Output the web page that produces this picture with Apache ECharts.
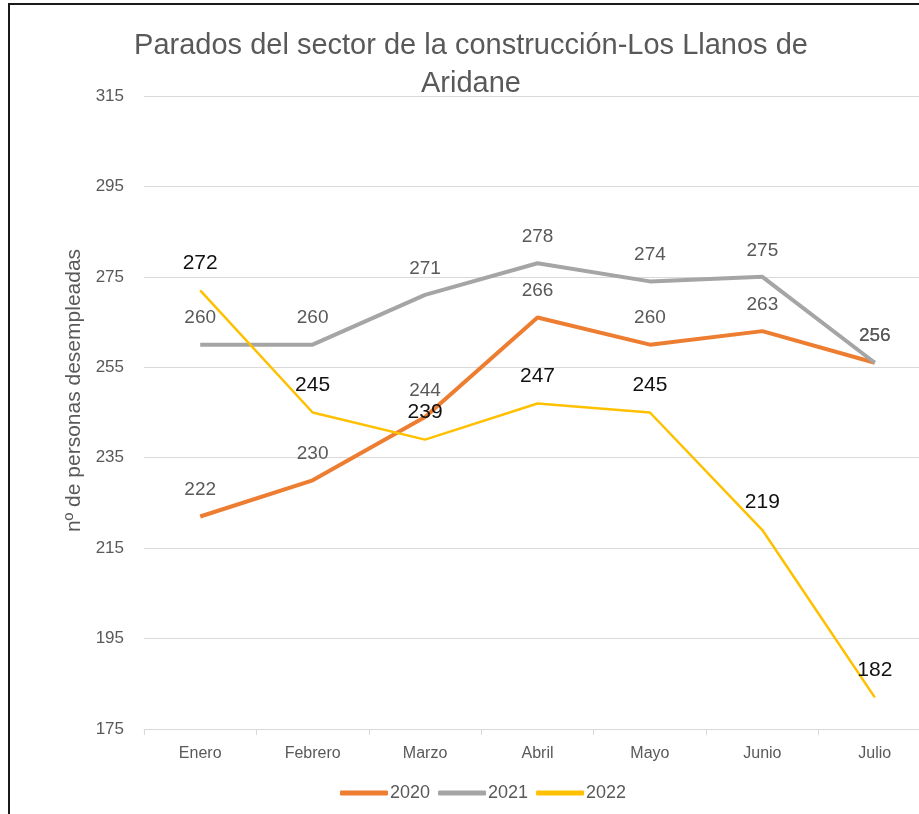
<!DOCTYPE html>
<html>
<head>
<meta charset="utf-8">
<title>Parados del sector de la construcción</title>
<script src="https://cdn.jsdelivr.net/npm/echarts@6/dist/echarts.min.js"></script>
<style>
  html, body { margin: 0; padding: 0; background: #fff; }
  #chartContainer { width: 919px; height: 814px; }
</style>
</head>
<body>
<div id="chartContainer"></div>
<script>
// Datos del gráfico
const meses = ['Enero', 'Febrero', 'Marzo', 'Abril', 'Mayo', 'Junio', 'Julio'];
const anios = ['2020', '2021', '2022'];
const valores2020 = [222, 230, 244, 266, 260, 263, 256];
const valores2021 = [260, 260, 271, 278, 274, 275, 256];
const valores2022 = [272, 245, 239, 247, 245, 219, 182];

const fuente = 'Liberation Sans';
const gris = '#595959';

function serie(nombre, datos, color, ancho, etiqueta) {
  return {
    name: nombre,
    type: 'line',
    data: datos,
    symbol: 'circle',
    symbolSize: 0,
    lineStyle: { color: color, width: ancho },
    itemStyle: { color: color },
    label: Object.assign({ show: true, position: 'top', fontFamily: fuente }, etiqueta)
  };
}

const chart = echarts.init(document.getElementById('chartContainer'));

chart.setOption({
  animation: false,
  backgroundColor: '#fff',
  title: {
    text: 'Parados del sector de la construcción-Los Llanos de\nAridane',
    left: 466,
    textAlign: 'center',
    top: 22,
    textStyle: { fontFamily: fuente, fontSize: 29, fontWeight: 'normal', color: gris, lineHeight: 38 }
  },
  legend: {
    data: anios,
    bottom: 7,
    left: 335,
    icon: 'roundRect',
    itemWidth: 48,
    itemHeight: 5,
    itemGap: 8,
    textStyle: { fontFamily: fuente, fontSize: 18, color: gris, padding: [0, 0, 0, -3] }
  },
  grid: {
    left: 144, top: 96, width: 787, height: 633,
    containLabel: false,
    outerBoundsMode: 'none'
  },
  xAxis: {
    type: 'category',
    data: meses,
    boundaryGap: true,
    axisLine: { lineStyle: { color: '#d9d9d9', width: 1 } },
    axisTick: { show: true, length: 6, lineStyle: { color: '#d9d9d9' } },
    axisLabel: { fontFamily: fuente, fontSize: 16, color: gris, margin: 17 }
  },
  yAxis: {
    type: 'value',
    min: 175,
    max: 315,
    interval: 20,
    name: 'nº de personas desempleadas',
    nameLocation: 'middle',
    nameGap: 58,
    nameTextStyle: { fontFamily: fuente, fontSize: 21, color: gris, padding: [0, 0, 0, 44] },
    axisLine: { show: false },
    axisTick: { show: false },
    axisLabel: { fontFamily: fuente, fontSize: 17, color: gris, margin: 20 },
    splitLine: { lineStyle: { color: '#d9d9d9', width: 1 } }
  },
  graphic: [{
    type: 'rect',
    shape: { x: 9, y: 4, width: 940, height: 840 },
    style: { fill: 'none', stroke: '#1a1a1a', lineWidth: 2 },
    silent: true,
    z: 100
  }],
  series: [
    serie('2020', valores2020, '#ed7d31', 4, { fontSize: 19, color: gris, distance: 17 }),
    serie('2021', valores2021, '#a5a5a5', 4, { fontSize: 19, color: gris, distance: 17 }),
    serie('2022', valores2022, '#ffc000', 2.5, { fontSize: 21, color: '#111', distance: 17 })
  ]
});
</script>
</body>
</html>
